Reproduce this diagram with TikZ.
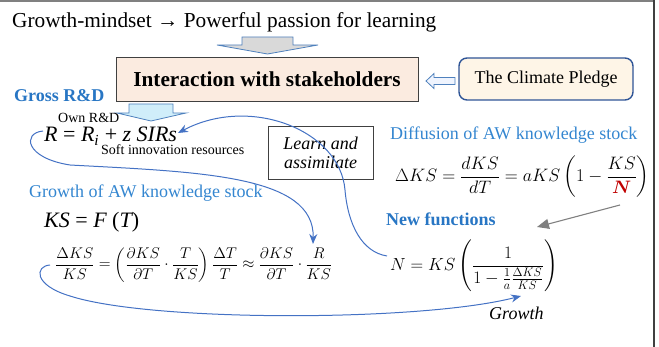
\RequirePackage{fix-cm}
\documentclass[tikz,border=0pt]{standalone}
\usepackage{amsmath,bm}
\usepackage{fontspec}
\setmainfont{LiberationSerif}[Extension=.ttf, UprightFont=*-Regular, BoldFont=*-Bold, ItalicFont=*-Italic, BoldItalicFont=*-BoldItalic]
\usetikzlibrary{arrows.meta}
\definecolor{headblue}{RGB}{52,134,208}
\definecolor{boldblue}{RGB}{40,118,196}
\definecolor{curveblue}{RGB}{68,114,196}
\definecolor{outlineblue}{RGB}{79,129,189}
\definecolor{boxfill}{RGB}{251,235,224}
\definecolor{pledgefill}{RGB}{254,245,231}
\definecolor{pledgeline}{RGB}{47,85,151}
\definecolor{grayfill}{RGB}{217,217,217}
\definecolor{lbfill}{RGB}{208,238,250}
\definecolor{redN}{RGB}{192,0,0}
\tikzset{
  txt/.style={inner sep=0pt, anchor=base west},
  fs14/.style={font=\fontsize{14}{16}\selectfont},
  fs18/.style={font=\fontsize{18}{20}\selectfont},
  fs21/.style={font=\fontsize{21.3}{25}\selectfont},
  fs22/.style={font=\fontsize{22}{26}\selectfont},
  mathfs/.style={inner sep=0pt, anchor=west},
  blockarrow/.style={draw=outlineblue, line width=0.8pt, line join=miter},
  link/.style={draw=curveblue, line width=1pt, -{Stealth[length=10pt,width=8pt]}},
}
\begin{document}
\begin{tikzpicture}[x=1pt,y=-1pt]
\useasboundingbox (0,0) rectangle (659,347);
% frame lines
\draw[gray, line width=2pt] (0,1) -- (655,1);
\draw[black!75, line width=2pt] (654,0) -- (654,347);

% title
\node[txt, fs21] (title) at (12,28) {Growth-mindset → Powerful passion for learning};

% gray down arrow
\draw[blockarrow, fill=grayfill] (242,37) -- (293,37) -- (293,45) -- (318,45) -- (267.5,54) -- (217,45) -- (242,45) -- cycle;

% interaction box
\node[draw=black!75, fill=boxfill, line width=0.9pt, minimum width=302, minimum height=44, inner sep=0pt, fs21] (inter) at (267,79) {\textbf{Interaction with stakeholders}};

% left arrow
\draw[blockarrow, fill=lbfill!85!blue!20] (426,81) -- (434,73.5) -- (434,77.5) -- (455,77.5) -- (455,84.5) -- (434,84.5) -- (434,88.5) -- cycle;

% climate pledge
\node[draw=pledgeline, fill=pledgefill, rounded corners=8pt, line width=1.4pt, minimum width=174, minimum height=42, inner sep=0pt, fs18] (pledge) at (546,79) {The Climate Pledge};

% Gross R&D
\node[txt, fs18, text=boldblue] (gross) at (14,102) {\textbf{Gross R\&D}};

% light blue down arrow
\draw[blockarrow, fill=lbfill] (129,104) -- (173,104) -- (173,113) -- (186,113) -- (151,121) -- (117,113) -- (129,113) -- cycle;

\node[txt, fs14] (own) at (58,122.5) {Own R\&D};
\node[txt, fs22] (req) at (44,142) {\itshape R \upshape= \itshape R\textsubscript{i} \upshape+ \itshape z SIRs};
\node[txt, fs14] (soft) at (101,155) {Soft innovation resources};

% learn box
\node[draw=black!75, line width=0.8pt, fill=white, minimum width=105, minimum height=53, inner sep=0pt, align=center, font=\fontsize{18}{19}\itshape\selectfont] (learn) at (320.5,152.5) {Learn and\\assimilate};

\node[txt, fs18, text=headblue] (growthks) at (29,198) {Growth of AW knowledge stock};
\node[txt, fs22] (ksf) at (44,228) {\itshape KS \upshape= \itshape F \upshape(\itshape T\upshape)};

\node[mathfs, font=\fontsize{15.5}{19}\selectfont] (bigeq) at (55,265) {$\dfrac{\Delta KS}{KS} = \left(\dfrac{\partial KS}{\partial T}\cdot\dfrac{T}{KS}\right)\dfrac{\Delta T}{T} \approx \dfrac{\partial KS}{\partial T}\cdot\dfrac{R}{KS}$};

\node[txt, fs18, text=headblue] (diff) at (390,140) {Diffusion of AW knowledge stock};
\node[mathfs, font=\fontsize{18}{22}\selectfont] (dkseq) at (395,177) {$\Delta KS = \dfrac{dKS}{dT} = aKS\left(1-\dfrac{KS}{\color{redN}\bm{N}}\right)$};
\node[txt, fs18, text=boldblue] (newf) at (386,226) {\textbf{New functions}};
\node[mathfs, font=\fontsize{17.5}{21}\selectfont] (neq) at (390,266) {$N = KS\left(\dfrac{1}{1-\frac{1}{a}\frac{\Delta KS}{KS}}\right)$};
\node[txt, fs18] (growth) at (489,320) {\itshape Growth};

% connectors
\coordinate (c1s) at (387,256);
\coordinate (c1m) at (345,190);
\coordinate (c1e) at (178,133);
\draw[link] (c1s) .. controls (362,252) and (348,225) .. (c1m) .. controls (340,130) and (250,95) .. (c1e);

\coordinate (c2s) at (43,131);
\coordinate (c2m) at (70,165);
\coordinate (c2e) at (313,244);
\draw[link] (c2s) .. controls (22,133) and (25,158) .. (c2m) .. controls (200,172) and (315,175) .. (c2e);

\coordinate (c3s) at (50,265);
\coordinate (c3m) at (70,296);
\coordinate (c3e) at (521,296);
\draw[link] (c3s) .. controls (35,266) and (33,285) .. (c3m) .. controls (150,322) and (420,322) .. (c3e);

\coordinate (g1) at (620,205);
\coordinate (g2) at (537,227);
\draw[draw=gray, line width=1.1pt, -{Triangle[length=12pt,width=10pt]}] (g1) -- (g2);
\end{tikzpicture}
\end{document}
